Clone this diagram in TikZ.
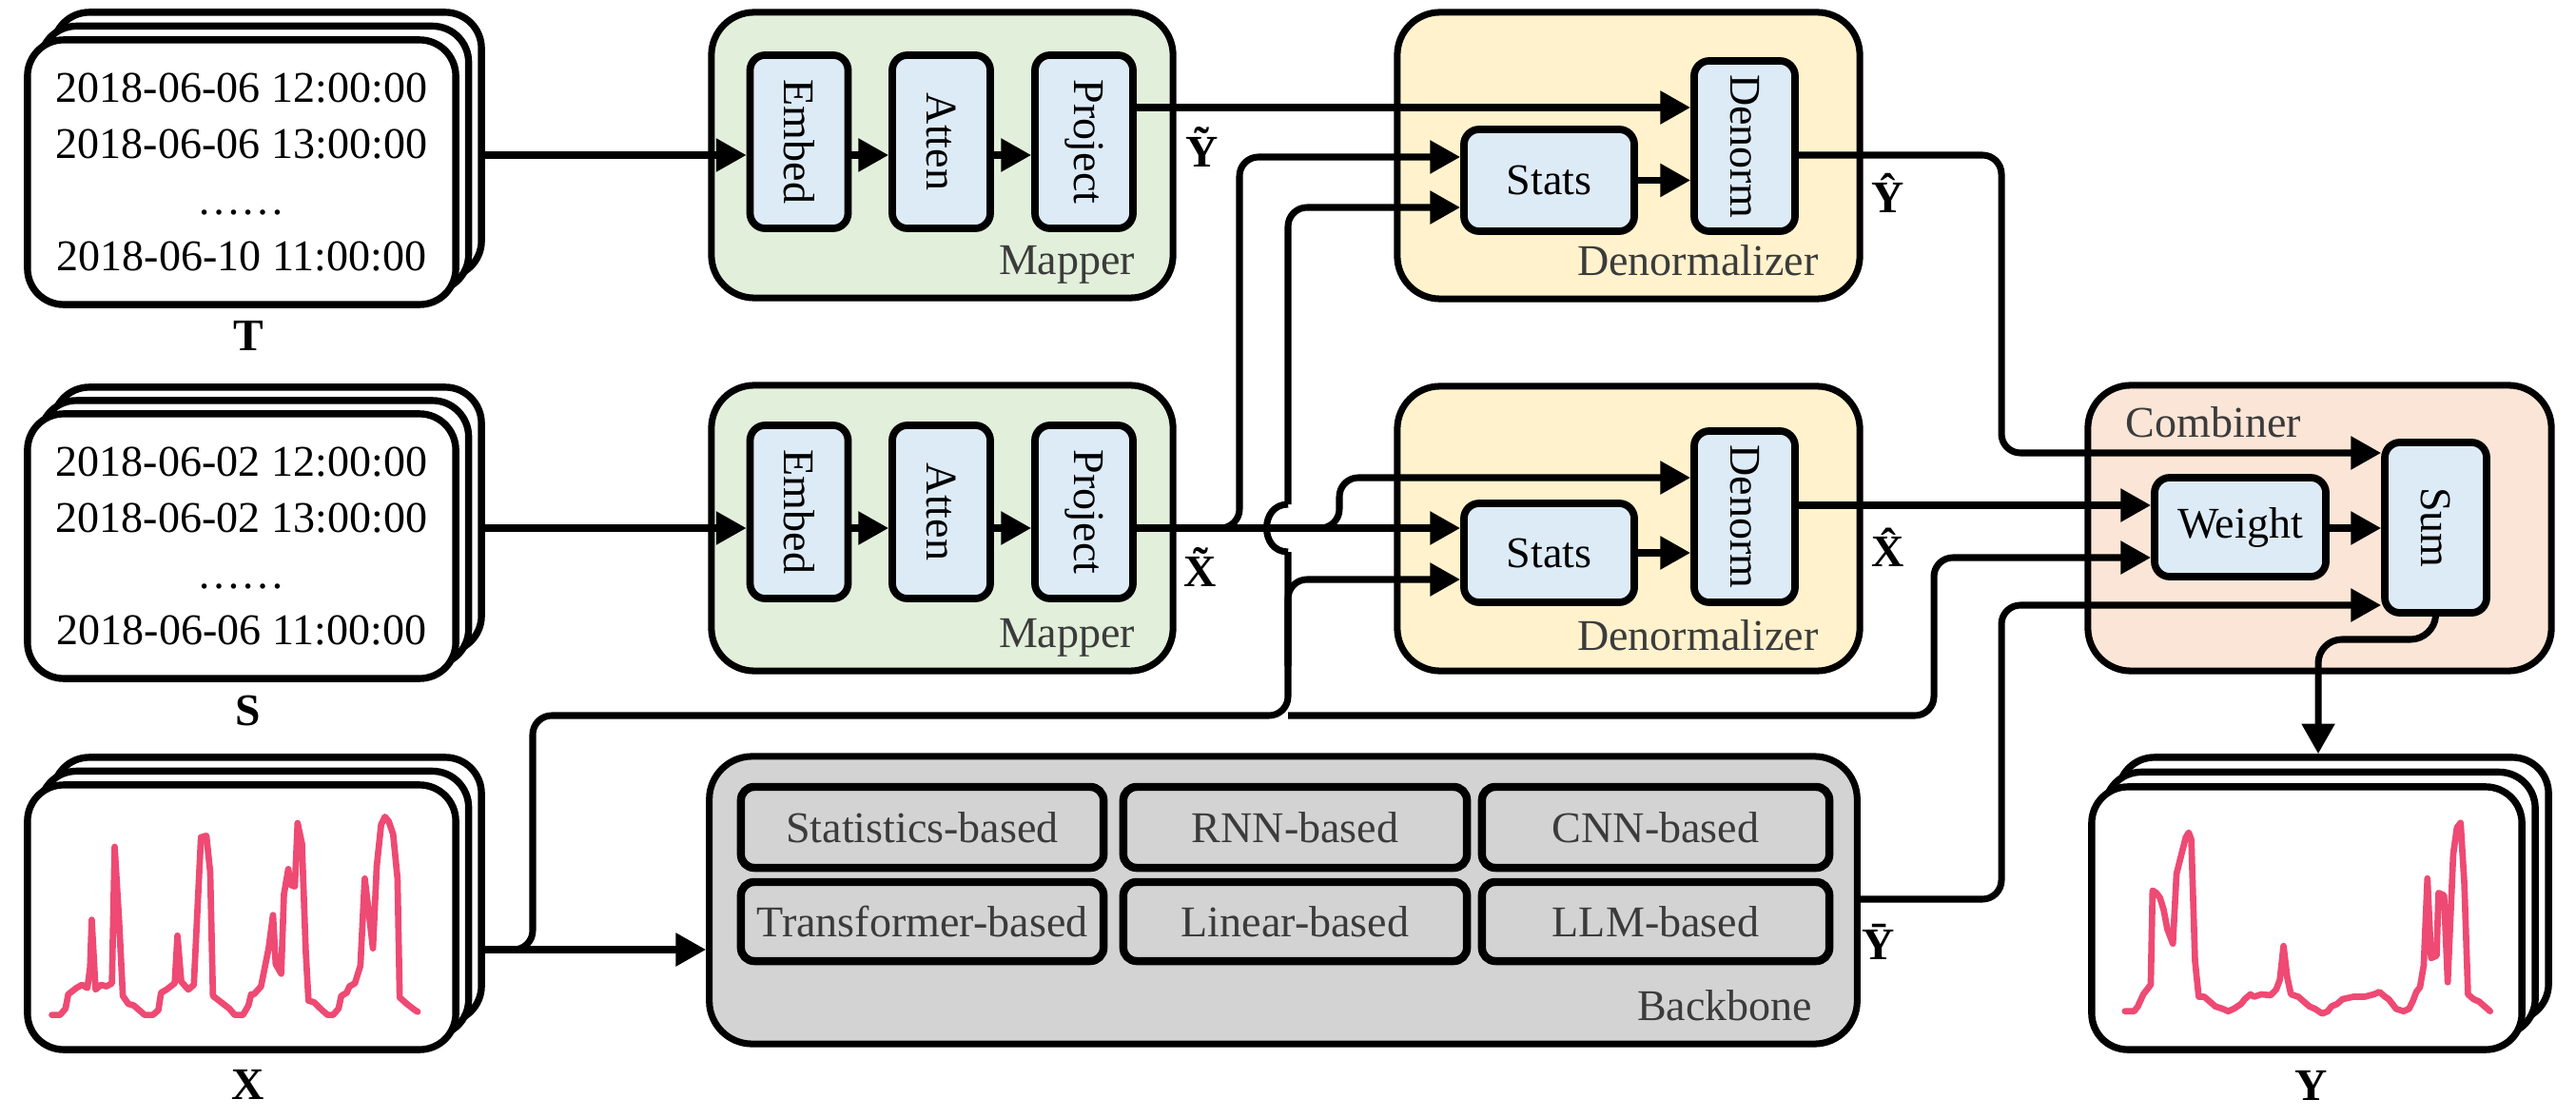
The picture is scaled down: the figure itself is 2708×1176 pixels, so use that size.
\documentclass[tikz,border=0pt]{standalone}
\usepackage{fontspec}
\setmainfont{Liberation Serif}
\usetikzlibrary{arrows.meta,calc}
\definecolor{mapfill}{HTML}{E2EFDA}
\definecolor{denfill}{HTML}{FFF2CC}
\definecolor{combfill}{HTML}{FBE5D6}
\definecolor{innfill}{HTML}{DDEBF7}
\definecolor{bbfill}{HTML}{D3D3D3}
\definecolor{labgray}{HTML}{3B3B3B}
\definecolor{plotred}{HTML}{EE4A73}
\begin{document}
\begin{tikzpicture}[x=0.01cm,y=-0.01cm,
  font=\fontsize{13.1pt}{16.8pt}\selectfont,
  card/.style={draw,line width=2.1pt,fill=white,rounded corners=0.38cm,minimum width=4.5cm,minimum height=2.78cm,inner sep=0pt,align=center},
  cont/.style={draw,line width=2pt,rounded corners=0.45cm,inner sep=0pt},
  inn/.style={draw,line width=2.2pt,fill=innfill,rounded corners=0.16cm,inner sep=0pt},
  vinn/.style={inn,minimum width=1.03cm,minimum height=1.82cm},
  hinn/.style={inn,minimum width=1.80cm,minimum height=1.05cm},
  bbi/.style={draw,line width=2.4pt,fill=bbfill,rounded corners=0.14cm,inner sep=0pt,text=labgray},
  clab/.style={inner sep=0pt,text=labgray},
  vlab/.style={inner sep=0pt,font=\fontsize{13.5pt}{16pt}\selectfont\bfseries},
  line/.style={line width=2pt},
  arr/.style={line width=2pt,-{Triangle[length=9pt,width=9.5pt]}},
  plotline/.style={draw=plotred,line width=1.9pt,line join=round,line cap=round}
]
\useasboundingbox (0,0) rectangle (2708,1176);

% ---------- input cards ----------
\node[card] (T3) at (281,152) {};
\node[card] (T2) at (267.5,166.5) {};
\node[card] (T) at (254,181) {2018-06-06 12:00:00\\2018-06-06 13:00:00\\……\\2018-06-10 11:00:00};
\node[vlab] (Tl) at (261,353) {T};

\node[card] (S3) at (281,546) {};
\node[card] (S2) at (267.5,560) {};
\node[card] (S) at (254,574) {2018-06-02 12:00:00\\2018-06-02 13:00:00\\……\\2018-06-06 11:00:00};
\node[vlab] (Sl) at (261,747) {S};

\node[card] (X3) at (281,935) {};
\node[card] (X2) at (267.5,949.5) {};
\node[card] (X) at (254,964) {};
\node[vlab] (Xl) at (261,1140) {X};

\node[card,minimum width=4.52cm,minimum height=2.76cm] (Y3) at (2453,934) {};
\node[card,minimum width=4.52cm,minimum height=2.76cm] (Y2) at (2439,949.5) {};
\node[card,minimum width=4.52cm,minimum height=2.76cm] (Y) at (2425,965) {};
\node[vlab] (Yl) at (2430,1141) {Y};

% X plot
\begin{scope}[shift={(0,750)},xscale=0.574,yscale=0.3333]
\draw[plotline] plot coordinates {(95,950) (110,950) (120,930) (125,885) (140,865) (150,855) (160,865) (165,800) (168,650) (175,870) (185,855) (195,860) (205,850) (210,420) (218,650) (225,890) (235,915) (245,920) (255,935) (265,950) (280,950) (290,935) (295,880) (305,870) (320,850) (325,700) (332,845) (345,870) (355,855) (368,390) (378,385) (385,500) (390,890) (405,910) (420,930) (430,950) (445,950) (455,920) (460,885) (465,885) (478,860) (485,800) (492,740) (500,635) (505,790) (515,820) (520,570) (528,490) (532,540) (540,545) (545,345) (553,410) (560,750) (565,905) (575,910) (590,935) (600,950) (610,950) (620,930) (625,890) (635,880) (640,860) (650,850) (660,795) (668,520) (675,620) (683,740) (690,480) (698,350) (705,325) (712,340) (720,380) (728,520) (732,895) (745,915) (760,935) (765,940)};
\end{scope}
% Y plot
\begin{scope}[shift={(2100,380)},xscale=0.3878,yscale=0.5076]
\draw[plotline] plot coordinates {(345,1345) (370,1345) (380,1335) (395,1310) (405,1300) (415,1290) (420,1095) (430,1100) (440,1110) (450,1135) (460,1175) (475,1205) (485,1060) (500,1015) (510,985) (518,975) (525,990) (535,1240) (545,1315) (560,1315) (575,1325) (590,1335) (610,1340) (625,1345) (640,1340) (660,1330) (670,1320) (685,1310) (695,1315) (715,1310) (740,1312) (755,1300) (765,1280) (775,1210) (785,1275) (795,1310) (815,1315) (830,1325) (845,1335) (860,1340) (880,1350) (895,1345) (905,1335) (920,1330) (935,1320) (965,1315) (995,1315) (1020,1310) (1035,1305) (1050,1315) (1060,1320) (1070,1330) (1080,1340) (1100,1345) (1115,1340) (1125,1325) (1135,1305) (1145,1295) (1155,1250) (1165,1070) (1175,1235) (1190,1230) (1195,1100) (1210,1105) (1220,1285) (1235,1020) (1245,965) (1255,955) (1265,1080) (1275,1310) (1290,1320) (1305,1325) (1320,1335) (1335,1345)};
\end{scope}

% ---------- containers ----------
\node[cont,fill=mapfill,minimum width=4.85cm,minimum height=3.0cm] (M1) at (990.5,163) {};
\node[cont,fill=mapfill,minimum width=4.85cm,minimum height=3.0cm] (M2) at (990.5,555) {};
\node[cont,fill=denfill,minimum width=4.86cm,minimum height=3.01cm] (D1) at (1712,163.5) {};
\node[cont,fill=denfill,minimum width=4.86cm,minimum height=2.99cm] (D2) at (1712,555.5) {};
\node[cont,fill=combfill,minimum width=4.87cm,minimum height=3.0cm] (C) at (2438.5,555) {};
\node[cont,fill=bbfill,minimum width=12.06cm,minimum height=3.02cm] (B) at (1349,946) {};

\node[clab,anchor=base east] (M1l) at (1194,288) {Mapper};
\node[clab,anchor=base east] (M2l) at (1194,680) {Mapper};
\node[clab,anchor=base east] (D1l) at (1912,290) {Denormalizer};
\node[clab,anchor=base east] (D2l) at (1912,683) {Denormalizer};
\node[clab,anchor=base west] (Cl) at (2234,459) {Combiner};
\node[clab,anchor=base east] (Bl) at (1906,1072) {Backbone};

% ---------- inner boxes ----------
\node[vinn] (E1) at (840,149) {\rotatebox{-90}{Embed}};
\node[vinn] (A1) at (989.5,149) {\rotatebox{-90}{Atten}};
\node[vinn] (P1) at (1139.5,149) {\rotatebox{-90}{Project}};
\node[vinn] (E2) at (840,538) {\rotatebox{-90}{Embed}};
\node[vinn] (A2) at (989.5,538) {\rotatebox{-90}{Atten}};
\node[vinn] (P2) at (1139.5,538) {\rotatebox{-90}{Project}};

\node[hinn,minimum width=1.79cm,minimum height=1.07cm] (St1) at (1628.5,189.5) {Stats};
\node[vinn,minimum width=1.06cm,minimum height=1.79cm] (N1) at (1834,153.5) {\rotatebox{-90}{Denorm}};
\node[hinn,minimum width=1.79cm,minimum height=1.04cm] (St2) at (1628.5,581) {Stats};
\node[vinn,minimum width=1.06cm,minimum height=1.80cm] (N2) at (1834,543) {\rotatebox{-90}{Denorm}};

\node[hinn,minimum width=1.80cm,minimum height=1.04cm] (W) at (2355,554) {Weight};
\node[vinn,minimum width=1.07cm,minimum height=1.79cm] (Su) at (2560.5,554.5) {\rotatebox{-90}{Sum}};

\node[bbi,minimum width=3.81cm,minimum height=0.85cm] (B11) at (969.5,869.5) {Statistics-based};
\node[bbi,minimum width=3.61cm,minimum height=0.85cm] (B12) at (1361.5,869.5) {RNN-based};
\node[bbi,minimum width=3.65cm,minimum height=0.85cm] (B13) at (1740.5,869.5) {CNN-based};
\node[bbi,minimum width=3.81cm,minimum height=0.83cm] (B21) at (969.5,968.5) {Transformer-based};
\node[bbi,minimum width=3.61cm,minimum height=0.83cm] (B22) at (1361.5,968.5) {Linear-based};
\node[bbi,minimum width=3.65cm,minimum height=0.83cm] (B23) at (1740.5,968.5) {LLM-based};

% ---------- variable labels ----------
\node[vlab] (Ytl) at (1264,155) {Ỹ};
\node[vlab] (Xtl) at (1262,596) {\~{X}};
\node[vlab] (Yhl) at (1985,203) {Ŷ};
\node[vlab] (Xhl) at (1985,575) {\^{X}};
\node[vlab] (Ybl) at (1975,990) {Ȳ};

% ---------- connectors ----------
\draw[arr] (T3.east |- 0,163) -- (E1.west |- 0,163);
\draw[arr] (E1.east |- 0,163) -- (A1.west |- 0,163);
\draw[arr] (A1.east |- 0,163) -- (P1.west |- 0,163);
\draw[arr] (P1.east |- 0,113) -- (N1.west |- 0,113);
\draw[arr] (St1.east) -- (N1.west |- St1.east);
\draw[arr,rounded corners=0.2cm] (N1.east |- 0,163) -- (2104,163) -- (2104,476) -- (Su.west |- 0,476);

\draw[arr] (S3.east |- 0,555) -- (E2.west |- 0,555);
\draw[arr] (E2.east |- 0,555) -- (A2.west |- 0,555);
\draw[arr] (A2.east |- 0,555) -- (P2.west |- 0,555);
\draw[arr] (P2.east |- 0,555) -- (St2.west |- 0,555);
\draw[arr,rounded corners=0.2cm] (P2.east |- 0,555) -- (1303,555) -- (1303,165) -- (St1.west |- 0,165);
\draw[arr,rounded corners=0.2cm] (1375,555) -- (1408,555) -- (1408,502) -- (N2.west |- 0,502);
\draw[arr] (St2.east) -- (N2.west |- St2.east);
\draw[arr] (N2.east |- 0,531) -- (W.west |- 0,531);
\draw[arr] (W.east |- 0,555) -- (Su.west |- 0,555);

\draw[arr] (X3.east |- 0,998) -- (B.west |- 0,998);
\draw[line,rounded corners=0.2cm] (X3.east |- 0,998) -- (560,998) -- (560,752) -- (1354,752) -- (1354,580);
\draw[line] (1354,580) .. controls (1324,580) and (1324,530) .. (1354,530);
\draw[arr,rounded corners=0.2cm] (1354,530) -- (1354,218) -- (St1.west |- 0,218);
\draw[arr,rounded corners=0.2cm] (1354,700) -- (1354,609) -- (St2.west |- 0,609);
\draw[arr,rounded corners=0.2cm] (1354,752) -- (2033,752) -- (2033,586) -- (W.west |- 0,586);

\draw[arr,rounded corners=0.2cm] (B.east |- 0,945) -- (2104,945) -- (2104,636) -- (Su.west |- 0,636);
\draw[arr,rounded corners=0.25cm] (Su.south) -- (2559,672) -- (2437,672) -- (Y3.north -| 2437,0);
\end{tikzpicture}
\end{document}
